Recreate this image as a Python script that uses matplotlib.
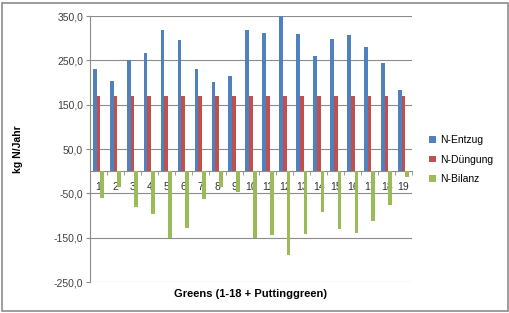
import numpy as np
import matplotlib.pyplot as plt
from matplotlib.patches import Rectangle

greens = [str(i) for i in range(1, 20)]
n_entzug = [230, 204, 251, 267, 318, 296, 230, 201, 215, 318,
            312, 351, 309, 260, 297, 308, 280, 245, 183]
n_duengung = [170] * 19
n_bilanz = [-61, -36, -81, -97, -150, -128, -62, -36, -47, -150,
            -145, -188, -142, -92, -130, -140, -112, -77, -14]
yticks = [-250, -150, -50, 50, 150, 250, 350]

plt.rcParams['font.family'] = ['Liberation Sans', 'DejaVu Sans']

fig = plt.figure(figsize=(5.1, 3.13), dpi=100)
ax = fig.add_axes([90/510, 1-282/313, 322/510, 266/313])

x = np.arange(len(greens))
w = 0.22
ax.bar(x - w, n_entzug, w, color='#4F81BD', label='N-Entzug', zorder=3)
ax.bar(x, n_duengung, w, color='#C0504D', label='N-Düngung', zorder=3)
ax.bar(x + w, n_bilanz, w, color='#9BBB59', label='N-Bilanz', zorder=3)

ax.set_xlim(-0.5, len(greens) - 0.5)
ax.set_ylim(-250, 350)
ax.set_yticks(yticks)
ax.set_yticklabels([f'{v:.1f}'.replace('.', ',') for v in yticks],
                   fontsize=7.5, color='#404040')
ax.yaxis.grid(True, color='#8c8c8c', linewidth=0.8, zorder=0)
ax.tick_params(axis='y', length=3, color='#8c8c8c', pad=2)

ax.spines['bottom'].set_position(('data', 0))
ax.spines['bottom'].set_color('#8c8c8c')
ax.spines['left'].set_color('#8c8c8c')
ax.spines['top'].set_visible(False)
ax.spines['right'].set_visible(False)
ax.set_xticks(x)
ax.set_xticklabels(greens, fontsize=7.5, color='#303030')
ax.tick_params(axis='x', which='major', length=0, pad=8)
ax.set_xticks(np.arange(-0.5, len(greens)), minor=True)
ax.tick_params(axis='x', which='minor', length=3, color='#8c8c8c')

fig.text(18/510, 1-149/313, 'kg N/Jahr', rotation=90, ha='center', va='center',
         fontsize=7.5, fontweight='bold')
fig.text(251/510, 1-294/313, 'Greens (1-18 + Puttinggreen)', ha='center',
         va='center', fontsize=8, fontweight='bold')

fig.legend(loc='upper left', bbox_to_anchor=(420/510, 1-126/313), frameon=False,
           fontsize=7.5, handlelength=0.6, handleheight=0.6, handletextpad=0.4,
           labelspacing=0.9)

fig.patches.append(Rectangle((2/510, 2/313), 506/510, 308/313, fill=False,
                             edgecolor='#8c8c8c', linewidth=1.2,
                             transform=fig.transFigure, figure=fig))

fig.savefig('out.png', dpi=100)
